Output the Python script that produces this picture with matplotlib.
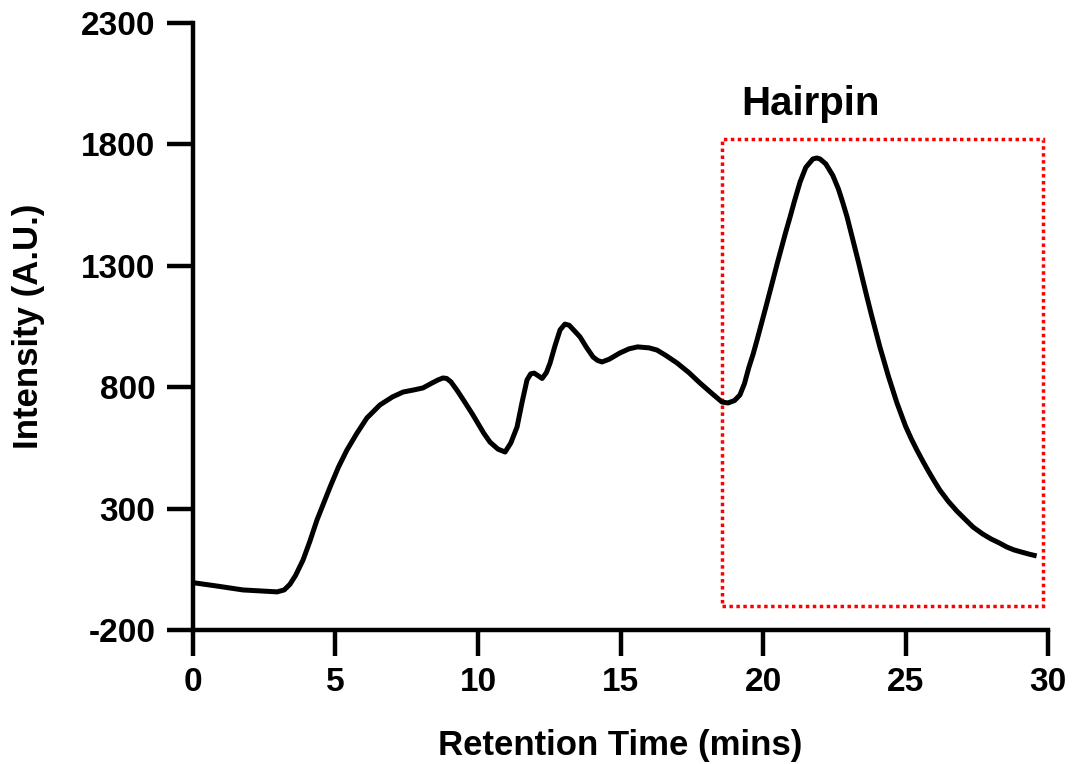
import numpy as np
import matplotlib
matplotlib.use("Agg")
import matplotlib.pyplot as plt
from matplotlib.patches import Rectangle

plt.rcParams['font.family'] = ['Liberation Sans', 'DejaVu Sans']
plt.rcParams['font.weight'] = 'bold'
plt.rcParams['axes.unicode_minus'] = False

# chromatogram
time_min = [0, 0.9, 1.75, 2.5, 2.95, 3.2, 3.4, 3.6, 3.86, 4.1, 4.35, 4.81, 5.1,
            5.4, 5.75, 6.1, 6.56, 7.0, 7.37, 7.8, 8.07, 8.4, 8.6, 8.77, 8.9,
            9.05, 9.26, 9.5, 9.8, 10.2, 10.42, 10.7, 10.95, 11.15, 11.37, 11.55,
            11.72, 11.85, 11.97, 12.1, 12.25, 12.4, 12.53, 12.7, 12.88, 13.05,
            13.2, 13.4, 13.58, 13.8, 14.04, 14.2, 14.35, 14.6, 14.98, 15.3,
            15.6, 16.0, 16.28, 16.6, 16.98, 17.4, 17.79, 18.2, 18.56, 18.77,
            19.0, 19.19, 19.35, 19.5, 19.65, 19.79, 20.1, 20.35, 20.5, 20.65,
            20.8, 20.95, 21.1, 21.3, 21.5, 21.75, 21.89, 22.0, 22.2, 22.45,
            22.65, 22.8, 22.95, 23.2, 23.35, 23.5, 23.65, 23.8, 23.95, 24.1,
            24.4, 24.7, 25.0, 25.2, 25.4, 25.6, 25.8, 26.0, 26.2, 26.5, 26.8,
            27.1, 27.37, 27.7, 28.0, 28.3, 28.55, 28.8, 29.1, 29.35, 29.6]
intensity = [-5, -20, -35, -40, -43, -35, -12, 25, 88, 165, 253, 389, 470,
             541, 610, 673, 727, 760, 780, 790, 797, 818, 830, 838, 836,
             822, 788, 745, 690, 611, 574, 545, 533, 570, 636, 740,
             830, 855, 858, 848, 836, 860, 900, 970, 1036, 1060,
             1055, 1030, 1007, 965, 924, 910, 904, 915, 941, 958,
             966, 962, 953, 930, 900, 860, 817, 775, 739, 735,
             745, 768, 815, 880, 935, 994, 1130, 1242, 1310, 1375,
             1440, 1501, 1565, 1645, 1705, 1740, 1744, 1740, 1720, 1672,
             1615, 1560, 1501, 1385, 1315, 1242, 1170, 1100, 1033, 966,
             845, 735, 640, 588, 541, 497, 455, 415, 377, 330, 290,
             255, 224, 196, 175, 158, 142, 130, 120, 112, 105]

box_x = [18.56, 29.82]
box_y = [-101, 1822]

fig = plt.figure(figsize=(10.74, 7.64), dpi=100)
ax = fig.add_axes([0.1797, 0.1754, 0.9758 - 0.1797, 0.9699 - 0.1754])

ax.plot(time_min, intensity, color='black', lw=3.6, solid_joinstyle='round',
        solid_capstyle='butt')

rect = Rectangle((box_x[0], box_y[0]), box_x[1] - box_x[0], box_y[1] - box_y[0],
                 fill=False, edgecolor='red', lw=2.5, linestyle=(0, (1, 1)))
ax.add_patch(rect)
ax.text(21.65, 1968, 'Hairpin', fontsize=29, fontweight='bold',
        ha='center', va='center')

ax.set_xlim(0, 30)
ax.set_ylim(-200, 2300)
ax.set_xticks(np.arange(0, 31, 5))
ax.set_yticks(np.arange(-200, 2301, 500))

for side in ['top', 'right']:
    ax.spines[side].set_visible(False)
for side in ['left', 'bottom']:
    ax.spines[side].set_linewidth(3.2)

ax.tick_params(axis='both', which='major', length=19, width=3.2, labelsize=24,
               direction='out')
ax.tick_params(axis='x', pad=8)
ax.tick_params(axis='y', pad=8)
for lab in ax.get_xticklabels() + ax.get_yticklabels():
    lab.set_fontweight('bold')

ax.set_xlabel('Retention Time (mins)', fontsize=25, fontweight='bold', labelpad=22)
ax.set_ylabel('Intensity (A.U.)', fontsize=25, fontweight='bold', labelpad=26)

fig.savefig('out.png', dpi=100)
